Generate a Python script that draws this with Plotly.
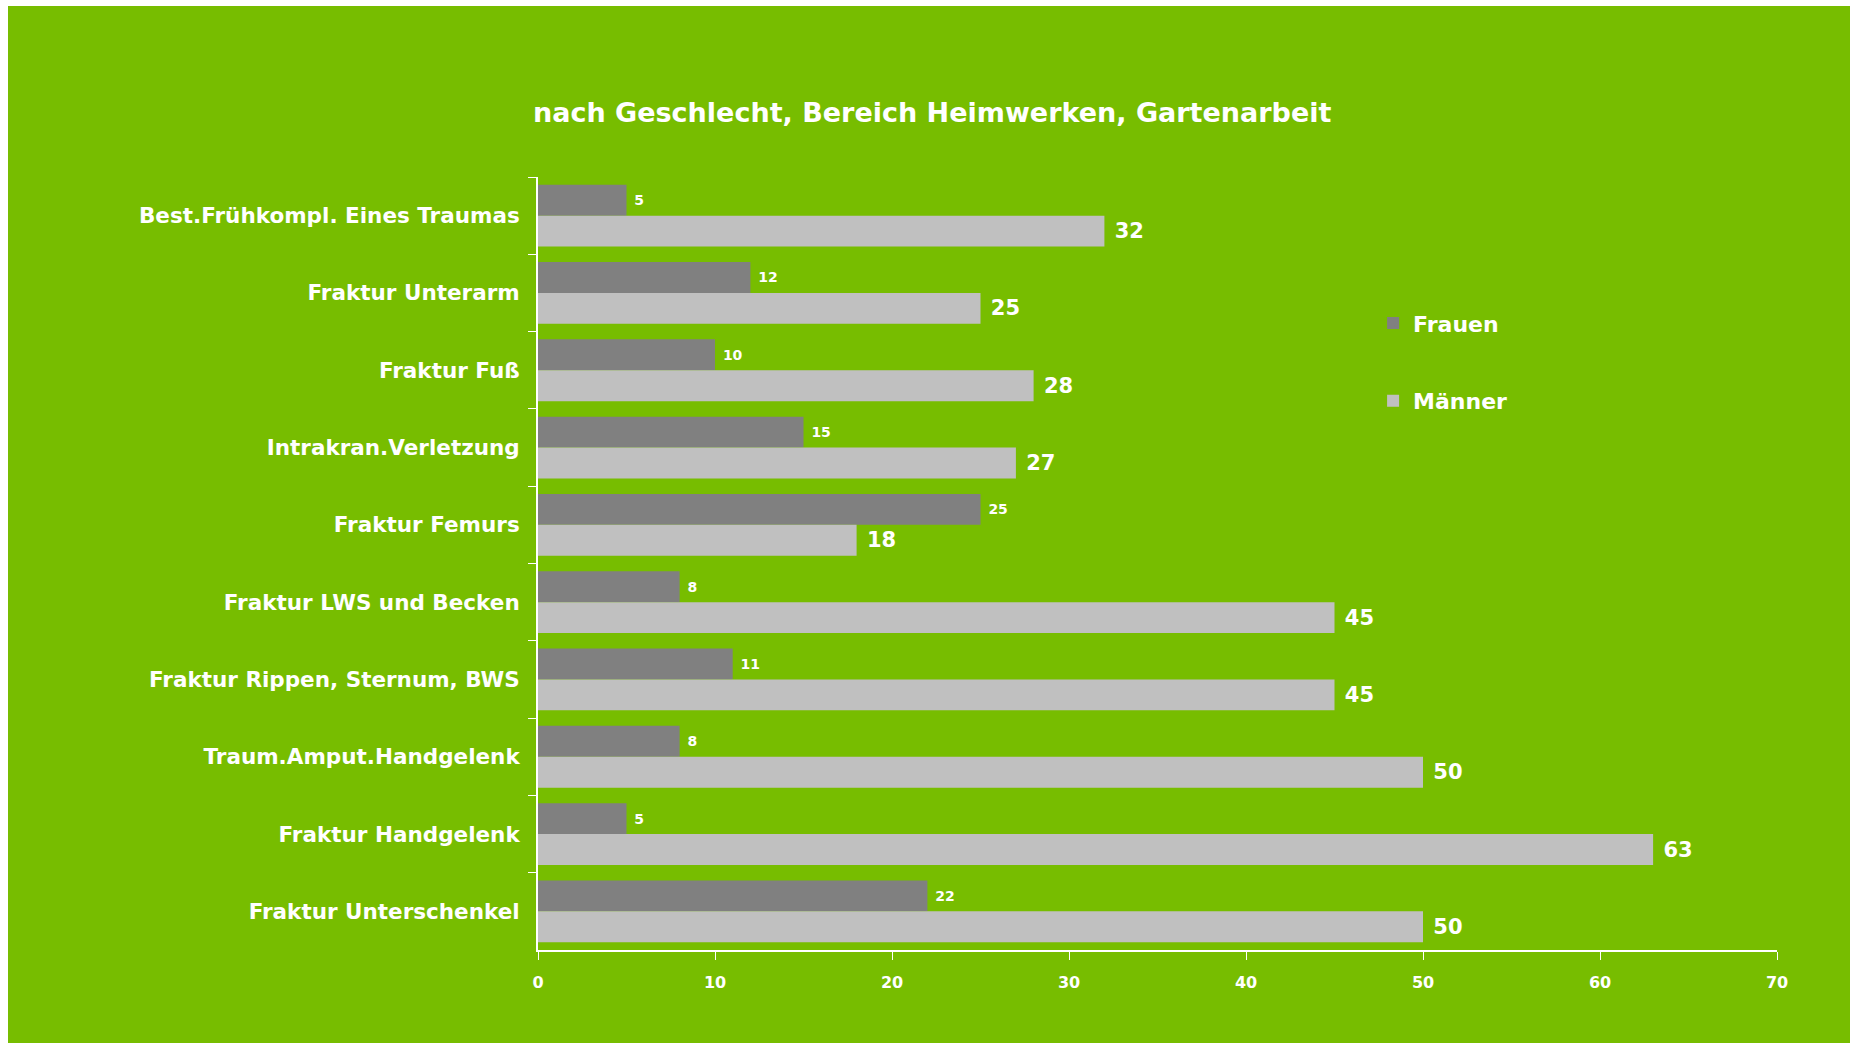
import plotly.graph_objects as go

categories = [
    "Best.Frühkompl. Eines Traumas",
    "Fraktur Unterarm",
    "Fraktur Fuß",
    "Intrakran.Verletzung",
    "Fraktur Femurs",
    "Fraktur LWS und Becken",
    "Fraktur Rippen, Sternum, BWS",
    "Traum.Amput.Handgelenk",
    "Fraktur Handgelenk",
    "Fraktur Unterschenkel",
]
frauen = [5, 12, 10, 15, 25, 8, 11, 8, 5, 22]
maenner = [32, 25, 28, 27, 18, 45, 45, 50, 63, 50]
x_ticks = [0, 10, 20, 30, 40, 50, 60, 70]

GREEN = "#77BD00"
FONT = "DejaVu Sans, Liberation Sans, Arial, sans-serif"

W, H = 1850, 1043
L, R, T, B = 538, 73, 177, 93
PW, PH = W - L - R, H - T - B


def px_x(p):
    return (p - L) / PW


def px_y(p):
    return (H - B - p) / PH


fig = go.Figure()
fig.add_trace(go.Bar(
    name="Frauen", y=categories, x=frauen, orientation="h",
    marker=dict(color="#808080", line=dict(width=0)),
    texttemplate="\u00a0%{x}", textposition="outside", cliponaxis=False, constraintext="none",
    textfont=dict(family=FONT, size=14, color="white", weight="bold"),
    legendgroup="f",
))
fig.add_trace(go.Bar(
    name="Männer", y=categories, x=maenner, orientation="h",
    marker=dict(color="#C0C0C0", line=dict(width=0)),
    texttemplate="\u00a0%{x}", textposition="outside", cliponaxis=False, constraintext="none",
    textfont=dict(family=FONT, size=21, color="white", weight="bold"),
    legendgroup="m",
))

fig.update_layout(
    width=W, height=H,
    paper_bgcolor=GREEN, plot_bgcolor=GREEN,
    margin=dict(l=L, r=R, t=T, b=B, autoexpand=False),
    barmode="group", bargap=0.2, bargroupgap=0,
    font=dict(family=FONT, color="white", weight="bold"),
    showlegend=True,
    legend=dict(
        x=0.674, y=0.838, xanchor="left", yanchor="top",
        bgcolor="rgba(0,0,0,0)", font=dict(size=22, color="white", family=FONT, weight="bold"),
        tracegroupgap=46, traceorder="grouped",
    ),
    xaxis=dict(
        range=[0, 70], tickvals=x_ticks, showgrid=False, zeroline=False,
        showline=True, linecolor="white", linewidth=2,
        ticks="outside", ticklen=8, tickcolor="white", tickwidth=1,
        tickfont=dict(size=16, color="white", family=FONT, weight="bold"),
        ticklabelstandoff=9,
    ),
    yaxis=dict(
        autorange="reversed", showgrid=False, zeroline=False,
        showline=True, linecolor="white", linewidth=2,
        ticks="outside", ticklen=8, tickcolor="white", tickwidth=1,
        tickson="boundaries",
        tickfont=dict(size=21.5, color="white", family=FONT, weight="bold"),
        ticklabelstandoff=12,
    ),
    annotations=[dict(
        text="nach Geschlecht, Bereich Heimwerken, Gartenarbeit",
        xref="paper", yref="paper", x=0.318, y=1.084, xanchor="center", yanchor="middle",
        showarrow=False, font=dict(size=27, color="white", family=FONT, weight="bold"),
    )],
    shapes=[
        dict(type="rect", xref="paper", yref="paper", x0=px_x(-2), x1=px_x(8),
             y0=px_y(H + 2), y1=px_y(-2), fillcolor="white", line=dict(width=0), layer="above"),
        dict(type="rect", xref="paper", yref="paper", x0=px_x(-2), x1=px_x(W + 2),
             y0=px_y(6), y1=px_y(-2), fillcolor="white", line=dict(width=0), layer="above"),
    ],
)

fig.write_html(
    "out.html",
    config={"displayModeBar": False},
    post_script="document.body.style.margin='0';document.body.style.overflow='hidden';",
)
